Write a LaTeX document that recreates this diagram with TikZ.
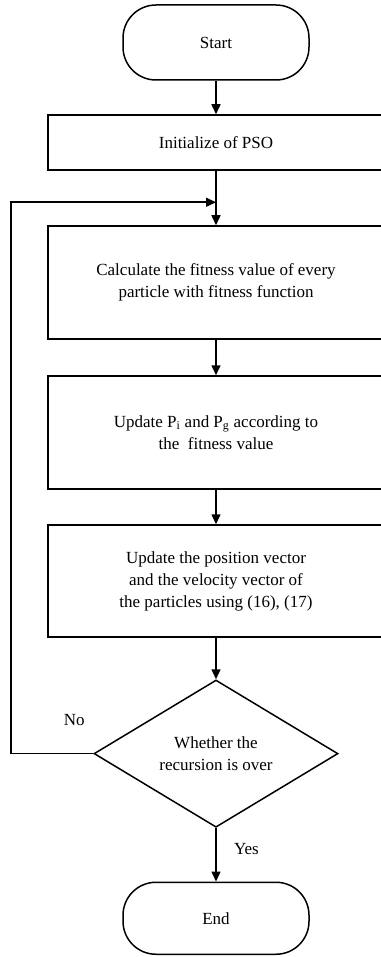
\documentclass[tikz,border=0pt]{standalone}
\usepackage{fontspec}
\setmainfont{Liberation Serif}
\usetikzlibrary{shapes.geometric, arrows.meta, positioning}

\begin{document}
\begin{tikzpicture}[
        % --- Style Definitions ---
        x=1pt, y=-1pt,
        line width=1.5pt,
        font=\fontsize{17}{22}\selectfont,
        term_style/.style={rectangle, rounded corners=33pt, draw=black, minimum width=186pt, minimum height=75pt},
        proc_style/.style={rectangle, draw=black, minimum width=336pt, align=center},
        dec_style/.style={diamond, draw=black, minimum width=244pt, minimum height=146pt, inner sep=0pt, align=center},
        arrow/.style={-{Triangle[length=10pt, width=9pt]}},
        arrowlabel/.style={font=\fontsize{17}{19}\selectfont}
    ]

        % --- Page Frame ---
        \useasboundingbox (0,0) rectangle (380,957);

        % --- Flow Steps ---
        \node[term_style] (start) at (216,42.5) {Start};
        \node[proc_style, minimum height=55pt] (init) [below=33.5pt of start] {Initialize of PSO};
        \node[proc_style, minimum height=113pt] (calc) [below=54.5pt of init] {Calculate the fitness value of every\\particle with fitness function};
        \node[proc_style, minimum height=113pt] (best) [below=35.5pt of calc] {Update P\textsubscript{i} and P\textsubscript{g} according to\\the\ \ fitness value};
        \node[proc_style, minimum height=112pt] (move) [below=34.5pt of best] {Update the position vector\\and the velocity vector of\\the particles using (16), (17)};
        \node[dec_style] (check) [below=41.5pt of move] {Whether the\\recursion is over};
        \node[term_style, minimum height=72pt] (stop) [below=53.5pt of check] {End};

        % --- Loop Points ---
        \coordinate[below=31.5pt of init] (join);
        \coordinate (back) at (11,0);

        % --- Data Flow Arrows ---
        \draw[arrow] (start) -- (init);
        \draw[arrow] (init) -- (calc);
        \draw[arrow] (calc) -- (best);
        \draw[arrow] (best) -- (move);
        \draw[arrow] (move) -- (check);
        \draw[arrow] (check) -- node[right=14pt, pos=0.4, arrowlabel] {Yes} (stop);

        % --- Back Path ---
        \draw[arrow] (check.west) -- node[above=24pt, pos=0.23, arrowlabel] {No} (check.west -| back) -- (back |- join) -- (join);

    \end{tikzpicture}
\end{document}
